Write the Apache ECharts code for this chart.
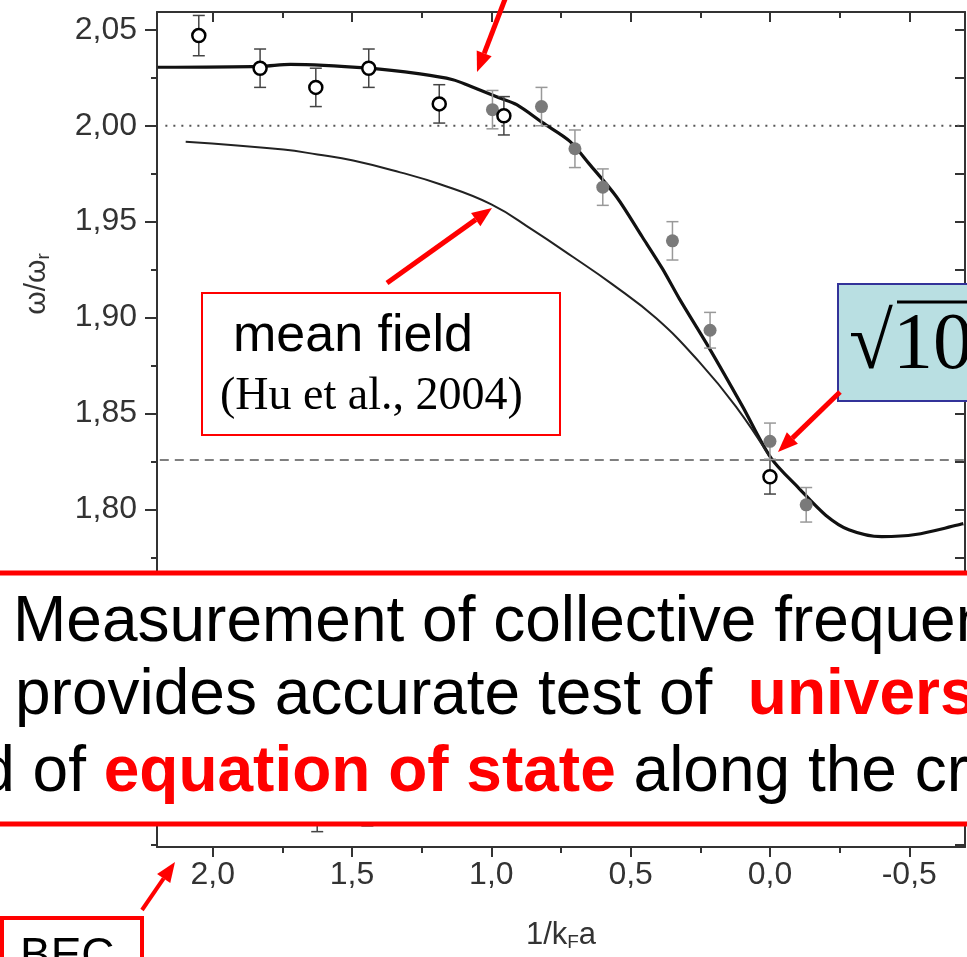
<!DOCTYPE html>
<html>
<head>
<meta charset="utf-8">
<script src="https://cdn.jsdelivr.net/npm/echarts@6/dist/echarts.min.js"></script>
<style>
html,body{margin:0;padding:0;background:#fff;}
#chart{width:967px;height:957px;}
</style>
</head>
<body>
<div id="chart"></div>
<script>
// ---------------- data ----------------
// open circles (data set 1)
const openX   = [2.05, 1.83, 1.63, 1.44, 1.187, 0.955, 0.0, 1.625, 1.445];
const openY   = [2.047, 2.030, 2.020, 2.030, 2.0114, 2.0052, 1.817, 1.642, 1.645];
const openErr = [0.0105, 0.010, 0.010, 0.010, 0.010, 0.010, 0.009, 0.010, 0.010];
// filled grey circles (data set 2)
const greyX   = [0.996, 0.82, 0.70, 0.60, 0.35, 0.215, 0.0, -0.13, 0.701, 0.605];
const greyY   = [2.0084, 2.010, 1.988, 1.968, 1.940, 1.8934, 1.8355, 1.8024, 1.647, 1.647];
const greyErr = [0.010, 0.010, 0.0098, 0.0095, 0.010, 0.0093, 0.0095, 0.009, 0.0095, 0.0095];
// thick theory curve
const thickX = [2.197, 1.828, 1.721, 1.438, 1.256, 1.138, 1.077, 0.970, 0.909, 0.816, 0.719, 0.648, 0.551, 0.458, 0.386, 0.326, 0.218, 0.100, -0.004, -0.104, -0.200, -0.283, -0.401, -0.522, -0.694];
const thickY = [2.0305, 2.031, 2.032, 2.030, 2.027, 2.024, 2.0207, 2.0145, 2.011, 2.0016, 1.992, 1.980, 1.963, 1.942, 1.9255, 1.910, 1.8841, 1.8541, 1.8267, 1.811, 1.797, 1.7894, 1.7858, 1.7869, 1.7926];
// thin mean-field curve
const thinX = [2.097, 1.746, 1.624, 1.496, 1.327, 1.184, 1.0, 0.852, 0.708, 0.569, 0.408, 0.254, 0.122, 0.004];
const thinY = [1.9917, 1.9876, 1.985, 1.9819, 1.9757, 1.9695, 1.959, 1.9457, 1.9317, 1.9177, 1.8996, 1.8769, 1.8536, 1.8282];
// reference lines (value, drawn across the full x range)
const refDotted = 2.00;
const refDashed = 1.8257;
// ticks
const xMajor = [2.0, 1.5, 1.0, 0.5, 0.0, -0.5];
const xMinor = [1.75, 1.25, 0.75, 0.25, -0.25];
const yMajor = [1.65, 1.70, 1.75, 1.80, 1.85, 1.90, 1.95, 2.00, 2.05];
const yMinor = [1.625, 1.675, 1.725, 1.775, 1.825, 1.875, 1.925, 1.975, 2.025];
const xMin = -0.7, xMax = 2.2, yMin = 1.624, yMax = 2.0593;

// ---------------- build ----------------
const zip = (a, b) => a.map((v, i) => [v, b[i]]);
const errData = (xs, ys, es) => xs.map((x, i) => [x, ys[i] - es[i], ys[i] + es[i]]);

function errRender(color) {
  return function (params, api) {
    const x = api.value(0), lo = api.value(1), hi = api.value(2);
    const p1 = api.coord([x, hi]), p2 = api.coord([x, lo]);
    const w = 6;
    const st = { stroke: color, lineWidth: 1.5 };
    return { type: 'group', children: [
      { type: 'line', shape: { x1: p1[0], y1: p1[1], x2: p2[0], y2: p2[1] }, style: st },
      { type: 'line', shape: { x1: p1[0] - w, y1: p1[1], x2: p1[0] + w, y2: p1[1] }, style: st },
      { type: 'line', shape: { x1: p2[0] - w, y1: p2[1], x2: p2[0] + w, y2: p2[1] }, style: st }
    ]};
  };
}

const axisColor = '#333';
const labelFont = { fontFamily: 'Liberation Sans, Arial, sans-serif', fontSize: 32, color: '#333' };
const fmtX = v => (Math.abs(v) < 1e-9 ? 0 : v).toFixed(1).replace('.', ',');
const fmtY = v => v.toFixed(2).replace('.', ',');

function xAx(pos, ticks, len, inside, withLine, withLabel) {
  const o = {
    type: 'value', position: pos, min: xMin, max: xMax, inverse: true,
    axisLine: { show: withLine, onZero: false, lineStyle: { color: axisColor, width: 2 } },
    axisTick: { show: true, inside: inside, length: len, customValues: ticks, lineStyle: { color: axisColor, width: 2 } },
    axisLabel: { show: withLabel },
    splitLine: { show: false }
  };
  if (withLabel) {
    o.axisLabel = Object.assign({ show: true, customValues: xMajor, formatter: fmtX, margin: 12 }, labelFont);
    o.name = '1/k{sub|F}a';
    o.nameLocation = 'middle';
    o.nameGap = 72;
    o.nameTextStyle = {
      fontFamily: 'Liberation Sans, Arial, sans-serif', fontSize: 31, color: '#333',
      rich: { sub: { fontSize: 19, color: '#333', verticalAlign: 'bottom', padding: [14, 0, 0, 0], fontFamily: 'Liberation Sans, Arial, sans-serif' } }
    };
  }
  return o;
}
function yAx(pos, ticks, len, inside, withLine, withLabel) {
  const o = {
    type: 'value', position: pos, min: yMin, max: yMax,
    axisLine: { show: withLine, onZero: false, lineStyle: { color: axisColor, width: 2 } },
    axisTick: { show: true, inside: inside, length: len, customValues: ticks, lineStyle: { color: axisColor, width: 2 } },
    axisLabel: { show: withLabel },
    splitLine: { show: false }
  };
  if (withLabel) {
    o.axisLabel = Object.assign({ show: true, customValues: yMajor, formatter: fmtY, margin: 20 }, labelFont);
  }
  return o;
}

function arrow(x1, y1, x2, y2, w) {
  const ang = Math.atan2(y2 - y1, x2 - x1);
  const hl = 20, hw = 8;
  const bx = x2 - hl * Math.cos(ang), by = y2 - hl * Math.sin(ang);
  const nx = -Math.sin(ang), ny = Math.cos(ang);
  return [
    { type: 'line', z: 110, shape: { x1: x1, y1: y1, x2: bx, y2: by }, style: { stroke: '#ff0000', lineWidth: w || 5 } },
    { type: 'polygon', z: 110, shape: { points: [[x2, y2], [bx + nx * hw, by + ny * hw], [bx - nx * hw, by - ny * hw]] }, style: { fill: '#ff0000' } }
  ];
}

const sans = 'Liberation Sans, Arial, sans-serif';
const serif = 'Liberation Serif, Times New Roman, serif';

const graphics = [].concat(
  // y-axis name
  [{ type: 'text', z: 50, x: 37, y: 284, rotation: Math.PI / 2,
     style: { text: 'ω/ω{sub|r}', font: '30px ' + sans, fill: '#333', align: 'center', verticalAlign: 'middle',
       rich: { sub: { font: '19px ' + sans, fill: '#333', padding: [14, 0, 0, 0] } } } }],
  // mean field box
  [{ type: 'rect', z: 100, shape: { x: 202, y: 293, width: 358, height: 142 }, style: { fill: '#fff', stroke: '#ff0000', lineWidth: 2 } },
   { type: 'text', z: 101, x: 233, y: 337, style: { text: 'mean field', font: '52px ' + sans, fill: '#000', verticalAlign: 'middle' } },
   { type: 'text', z: 101, x: 220, y: 397, style: { text: '(Hu et al., 2004)', font: '46px ' + serif, fill: '#000', verticalAlign: 'middle' } }],
  // sqrt box
  [{ type: 'rect', z: 100, shape: { x: 838, y: 284, width: 150, height: 117 }, style: { fill: '#b9dfe2', stroke: '#333399', lineWidth: 2 } },
   { type: 'text', z: 101, x: 849, y: 347, style: { text: '√10', font: '80px ' + serif, fill: '#000', verticalAlign: 'middle' } },
   { type: 'line', z: 101, shape: { x1: 897, y1: 302, x2: 975, y2: 302 }, style: { stroke: '#000', lineWidth: 3 } }],
  // banner
  [{ type: 'rect', z: 120, shape: { x: -10, y: 573, width: 990, height: 251 }, style: { fill: '#fff', stroke: '#ff0000', lineWidth: 5 } },
   { type: 'text', z: 121, x: 13, y: 623, style: { text: 'Measurement of collective frequencies', font: '64px ' + sans, fill: '#000', verticalAlign: 'middle' } },
   { type: 'text', z: 121, x: 15, y: 696, style: { text: '{n|provides accurate test of  }{r|universality}', verticalAlign: 'middle',
       rich: { n: { font: '64px ' + sans, fill: '#000' }, r: { font: 'bold 64px ' + sans, fill: '#ff0000' } } } },
   { type: 'text', z: 121, x: -92, y: 773, style: { text: '{n|and of }{r|equation of state}{n| along the crossover}', verticalAlign: 'middle',
       rich: { n: { font: '64px ' + sans, fill: '#000' }, r: { font: 'bold 64px ' + sans, fill: '#ff0000' } } } }],
  // BEC box
  [{ type: 'rect', z: 100, shape: { x: 2, y: 918, width: 140, height: 70 }, style: { fill: '#fff', stroke: '#ff0000', lineWidth: 4 } },
   { type: 'text', z: 101, x: 20, y: 957, style: { text: 'BEC', font: '46px ' + sans, fill: '#000', verticalAlign: 'middle' } }],
  // arrows
  arrow(507, -6, 477, 72),
  arrow(387, 283, 492, 208),
  arrow(840, 392, 778, 452),
  arrow(142, 910, 175, 862, 4)
);

const option = {
  animation: false,
  backgroundColor: '#fff',
  grid: { left: 157, right: 2, top: 12, bottom: 104, containLabel: false },
  xAxis: [
    xAx('bottom', xMajor, 10, false, true, true),
    xAx('bottom', xMinor, 6, false, false, false),
    xAx('top', xMajor, 10, true, true, false),
    xAx('top', xMinor, 6, true, false, false)
  ],
  yAxis: [
    yAx('left', yMajor, 12, false, true, true),
    yAx('left', yMinor, 6, false, false, false),
    yAx('right', yMajor, 10, true, true, false),
    yAx('right', yMinor, 10, true, false, false)
  ],
  series: [
    {
      type: 'line', name: 'dotted ref', data: [[xMax - 0.03, refDotted], [xMin, refDotted]], showSymbol: false, symbol: 'none',
      lineStyle: { type: [2, 6], color: '#555', width: 2 }, z: 2, silent: true
    },
    {
      type: 'line', name: 'dashed ref', data: [[xMax - 0.01, refDashed], [xMin, refDashed]], showSymbol: false, symbol: 'none',
      lineStyle: { type: [9, 6], color: '#555', width: 1.5 }, z: 2, silent: true
    },
    {
      type: 'line', name: 'theory', data: zip(thickX, thickY), smooth: 0.3, showSymbol: false, symbol: 'none',
      lineStyle: { color: '#111', width: 3.2 }, z: 3
    },
    {
      type: 'line', name: 'mean field', data: zip(thinX, thinY), smooth: 0.45, showSymbol: false, symbol: 'none',
      lineStyle: { color: '#222', width: 2 }, z: 3
    },
    { type: 'custom', name: 'err-open', data: errData(openX, openY, openErr), renderItem: errRender('#444'), z: 4 },
    { type: 'custom', name: 'err-grey', data: errData(greyX, greyY, greyErr), renderItem: errRender('#999'), z: 4 },
    {
      type: 'scatter', name: 'grey', data: zip(greyX, greyY), symbol: 'circle', symbolSize: 13,
      itemStyle: { color: '#7a7a7a', opacity: 1 }, z: 5
    },
    {
      type: 'scatter', name: 'open', data: zip(openX, openY), symbol: 'circle', symbolSize: 13,
      itemStyle: { color: '#fff', borderColor: '#000', borderWidth: 2.5, opacity: 1 }, z: 6
    }
  ],
  graphic: graphics
};

const chart = echarts.init(document.getElementById('chart'), null, { renderer: 'canvas' });
chart.setOption(option);
</script>
</body>
</html>
